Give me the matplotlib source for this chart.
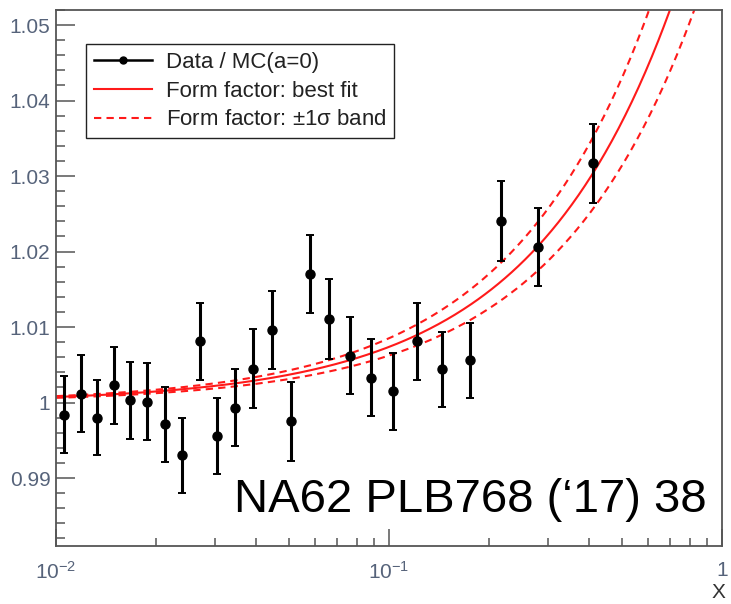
import numpy as np
import matplotlib
matplotlib.use('Agg')
import matplotlib.pyplot as plt
from matplotlib.lines import Line2D
from matplotlib.ticker import FixedLocator, FuncFormatter, MultipleLocator

plt.rcParams['font.family'] = ['Liberation Sans', 'DejaVu Sans']
plt.rcParams['mathtext.fontset'] = 'custom'
plt.rcParams['mathtext.rm'] = 'Liberation Sans'
plt.rcParams['mathtext.default'] = 'regular'

# Data / MC(a=0) ratio per x bin
x_vals = [0.0106, 0.0119, 0.0133, 0.0149, 0.0167, 0.0188, 0.0212, 0.0239, 0.0270,
          0.0304, 0.0344, 0.0391, 0.0444, 0.0507, 0.0579, 0.0662, 0.0764, 0.0885,
          0.1028, 0.1216, 0.1446, 0.1747, 0.2163, 0.2799, 0.4094]
ratio = [0.9984, 1.0012, 0.9980, 1.0023, 1.0003, 1.0001, 0.9971, 0.9930, 1.0081,
         0.9956, 0.9993, 1.0045, 1.0096, 0.9975, 1.0170, 1.0111, 1.0062, 1.0033,
         1.0015, 1.0081, 1.0044, 1.0056, 1.0240, 1.0206, 1.0317]
ratio_err = [0.0051, 0.0051, 0.0050, 0.0051, 0.0051, 0.0051, 0.0050, 0.0050, 0.0051,
             0.0050, 0.0051, 0.0052, 0.0052, 0.0052, 0.0052, 0.0053, 0.0051, 0.0051,
             0.0051, 0.0051, 0.0050, 0.0050, 0.0053, 0.0052, 0.0052]

# form factor slope: best fit and its uncertainty
a_fit = 0.0368
a_err = 0.0057

y_tick_vals = [0.99, 1.00, 1.01, 1.02, 1.03, 1.04, 1.05]
x_tick_vals = [0.01, 0.1, 1.0]
x_tick_text = ['$10^{-2}$', '$10^{-1}$', '1']

axis_grey = '#555555'
label_col = '#56637a'
red = '#ff1a1a'


def form_factor_sq(x, a):
    """ |F(x)|^2 for a linear form factor F = 1 + a x """
    return (1.0 + a * x) ** 2


def x_label_for(v, pos):
    # pick the text of the nearest fixed tick
    i = int(np.argmin([abs(np.log10(t) - np.log10(v)) for t in x_tick_vals]))
    return x_tick_text[i]


fig = plt.figure(figsize=(7.31, 6.04), dpi=100)
ax = fig.add_axes([56 / 731, 58 / 604, 666 / 731, 536 / 604])

xx = np.logspace(-2, 0, 400)
ax.plot(xx, form_factor_sq(xx, a_fit), color=red, lw=1.5, zorder=2)
for a in (a_fit - a_err, a_fit + a_err):
    ax.plot(xx, form_factor_sq(xx, a), color=red, lw=1.5,
            dashes=(3.5, 2.5), zorder=2)

ax.errorbar(x_vals, ratio, yerr=ratio_err, fmt='o', color='black', ms=6.5,
            elinewidth=2.2, capsize=3, capthick=1.4, zorder=3)

ax.set_xscale('log')
ax.set_xlim(0.01, 1.0)
ax.set_ylim(0.981, 1.052)

# ticks drawn inward on the bottom and left axes only
ax.xaxis.set_major_locator(FixedLocator(x_tick_vals))
ax.xaxis.set_major_formatter(FuncFormatter(x_label_for))
ax.xaxis.set_minor_formatter(FuncFormatter(lambda v, p: ''))
ax.yaxis.set_major_locator(FixedLocator(y_tick_vals))
ax.yaxis.set_minor_locator(MultipleLocator(0.002))
ax.yaxis.set_major_formatter(FuncFormatter(lambda v, p: f'{v:.2f}'.rstrip('0').rstrip('.')))

ax.tick_params(axis='both', which='both', direction='in', color=axis_grey,
               labelcolor=label_col, labelsize=15, width=1.1)
ax.tick_params(axis='x', which='major', length=12, pad=11)
ax.tick_params(axis='x', which='minor', length=6)
ax.tick_params(axis='y', which='major', length=14, pad=4)
ax.tick_params(axis='y', which='minor', length=6.5)

for sp in ax.spines.values():
    sp.set_color(axis_grey)
    sp.set_linewidth(1.3)

# axis title sits under the right end of the x axis
fig.text(725 / 731, 2 / 604, 'X', ha='right', va='bottom', fontsize=15, color='#333333')

handles = [
    Line2D([], [], color='black', lw=1.8, marker='o', ms=5),
    Line2D([], [], color=red, lw=1.5),
    Line2D([], [], color=red, lw=1.5, dashes=(3.5, 2.5)),
]
labels = ['Data / MC(a=0)', 'Form factor: best fit', 'Form factor: $\\pm$1$\\sigma$ band']
leg = ax.legend(handles, labels, loc='upper left', bbox_to_anchor=(0.045, 0.9366),
                borderaxespad=0, fontsize=16, frameon=True, fancybox=False,
                framealpha=1, edgecolor='#222222', handlelength=2.6,
                handletextpad=0.65, labelspacing=0.35, borderpad=0.35)
leg.get_frame().set_linewidth(1.0)
for t in leg.get_texts():
    t.set_color('#222222')

ax.text(0.977, 0.064, 'NA62 PLB768 (\u201817) 38', transform=ax.transAxes,
        ha='right', va='baseline', fontsize=34, color='black')

fig.savefig('out.png', dpi=100)
